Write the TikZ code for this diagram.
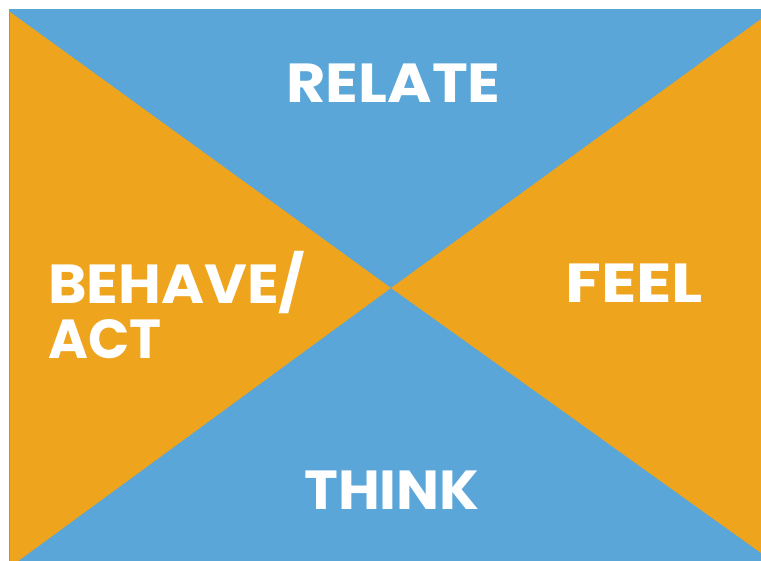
\documentclass[tikz,border=0pt]{standalone}
\usepackage{fontspec}
\setmainfont{Poppins}[UprightFont=* SemiBold, BoldFont=* Bold]
\definecolor{skyblue}{RGB}{91,166,216}
\definecolor{amber}{RGB}{238,164,28}
\newcommand{\wide}[2]{\scalebox{#1}[1]{#2}}
\begin{document}
\begin{tikzpicture}[x=1pt,y=-1pt,
  lbl/.style={text=white,inner sep=0pt,font=\fontsize{55}{60}\selectfont\bfseries}]
\useasboundingbox (0,0) rectangle (761,561);
\fill[skyblue] (9,9) rectangle (761,561);
\coordinate (c) at (391,288);
\fill[amber] (10,12) -- (c) -- (10,567) -- cycle;
\fill[amber] (761,19) -- (c) -- (761,553) -- cycle;
\node[lbl,anchor=base] (relate) at (393.5,103) {\wide{1.10}{RELATE}};
\node[lbl,anchor=base] (think) at (392,509) {\wide{1.04}{THINK}};
\node[lbl,anchor=base west] (feel) at (565,303) {\wide{1.19}{FEEL}};
\node[lbl,anchor=base west] (behave) at (48,304) {\wide{1.065}{BEHAVE/}};
\node[lbl,anchor=base west] (act) at (48,359) {\wide{0.985}{ACT}};
\end{tikzpicture}
\end{document}
